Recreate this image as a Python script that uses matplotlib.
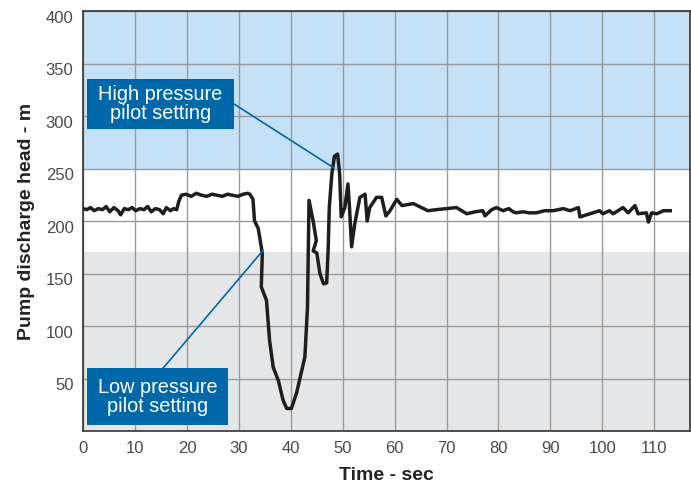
import matplotlib
matplotlib.use("Agg")
import matplotlib.pyplot as plt
from matplotlib.patches import Rectangle
from matplotlib.transforms import ScaledTranslation

plt.rcParams['font.family'] = ['Liberation Sans', 'DejaVu Sans']

time_s = [0.0, 0.7, 1.4, 2.1, 2.9, 3.7, 4.4, 5.1, 5.9, 6.7, 7.2, 7.9, 8.7, 9.4, 10.1, 10.9,
          11.7, 12.4, 13.1, 13.9, 14.7, 15.4, 16.0, 16.8, 17.4, 18.0, 18.4, 18.9, 19.8,
          20.8, 21.8, 22.8, 23.8, 24.8, 25.8, 26.8, 27.8, 28.8, 29.8, 30.8, 31.7, 32.1,
          32.7, 33.0, 33.7, 34.3, 34.5, 34.3, 35.3, 35.9, 36.6, 37.6, 38.5, 39.2, 40.1,
          41.1, 42.1, 42.7, 43.2, 43.5, 44.3, 44.9, 44.3, 45.0, 45.6, 46.3, 46.9, 47.2,
          47.4, 47.9, 48.4, 49.0, 49.4, 49.7, 50.4, 51.0, 51.3, 51.7, 52.3, 53.3, 54.3,
          54.7, 55.2, 56.5, 57.5, 58.3, 59.1, 60.4, 61.4, 63.6, 66.4, 68.0, 70.0, 71.9,
          73.9, 75.5, 77.0, 77.4, 78.7, 79.6, 80.9, 82.0, 82.8, 83.4, 84.7, 85.9, 87.3,
          88.9, 90.5, 92.5, 93.8, 95.4, 95.7, 97.6, 99.5, 100.1, 101.4, 102.1, 104.0,
          105.0, 106.3, 106.9, 108.5, 108.9, 109.5, 110.5, 111.8, 113.1]
head_m = [212.0, 211.0, 213.0, 210.0, 212.0, 211.0, 214.0, 209.0, 213.0, 210.0, 206.1, 212.0,
          211.0, 213.0, 210.0, 212.0, 211.0, 214.0, 209.0, 212.0, 211.0, 207.1, 213.0, 210.0,
          212.0, 211.0, 218.8, 224.7, 225.7,
          223.7, 226.6, 224.7, 223.7, 225.7, 224.7, 223.7, 225.7, 224.7, 223.7, 225.7, 226.6, 225.7,
          220.8, 200.2, 193.3, 175.7, 168.8, 137.5, 124.8, 86.6, 61.1, 48.3, 29.7, 21.9, 21.9,
          36.6, 58.1, 70.9, 117.9, 219.8, 200.2, 181.6, 171.8, 169.8, 150.2, 140.4, 141.4, 174.7,
          212.9, 245.2, 261.9, 263.9, 245.2, 204.1, 213.0, 235.5, 213.0, 175.7, 197.3, 222.7, 225.7,
          200.2, 213.0, 222.7, 222.7, 205.1, 210.0, 220.8, 214.9, 216.8, 210.0, 211.0, 212.0, 213.0,
          207.1, 209.0, 210.0, 205.1, 211.0, 213.0, 210.0, 212.0, 209.0, 208.0, 209.0, 208.0, 208.0,
          210.0, 210.0, 212.0, 210.0, 213.0, 204.1, 207.1, 210.0, 207.1, 210.0, 207.1, 213.0,
          208.0, 214.9, 207.1, 208.0, 199.2, 208.0, 207.1, 210.0, 210.0]

x_ticks = [0, 10, 20, 30, 40, 50, 60, 70, 80, 90, 100, 110]
y_ticks = [50, 100, 150, 200, 250, 300, 350, 400]
high_band = (249, 400)
low_band = (0, 170.5)
high_label = 'High pressure\npilot setting'
low_label = 'Low pressure\npilot setting'

fig = plt.figure(figsize=(6.91, 4.88), dpi=100)
ax = fig.add_axes([0.1205, 0.1158, 0.878, 0.8617])
ax.set_xlim(0, 116.9)
ax.set_ylim(0, 399)

ax.axhspan(high_band[0], high_band[1], color='#c6e0f5', zorder=0, lw=0)
ax.axhspan(low_band[0], low_band[1], color='#e5e6e8', zorder=0, lw=0)

ax.set_xticks(x_ticks)
ax.set_yticks(y_ticks)
ax.grid(True, color='#9a9a9a', lw=1.0, zorder=1)
ax.set_axisbelow(True)
ax.tick_params(length=0, labelsize=12, labelcolor='#4a4a4a', pad=7)
for lbl in ax.get_yticklabels():
    lbl.set_transform(lbl.get_transform() + ScaledTranslation(0, -4 / 72, fig.dpi_scale_trans))

for s in ax.spines.values():
    s.set_color('#333333')
    s.set_linewidth(1.2)

ax.plot(time_s, head_m, color='#1e1e1e', lw=2.5, zorder=3, solid_joinstyle='round')

ax.set_xlabel('Time - sec', fontsize=14, fontweight='bold', color='#222222', labelpad=8)
ax.set_ylabel('Pump discharge head - m', fontsize=14, fontweight='bold', color='#222222', labelpad=8)

box_c = '#0067a9'
# High pressure box and leader
ax.add_patch(Rectangle((0.77, 288.0), 28.2, 47.4, fc=box_c, ec='none', zorder=5))
ax.text(14.9, 311.7, high_label, ha='center', va='center', fontsize=14.3,
        color='white', linespacing=1.0, zorder=6)
ax.plot([29.0, 48.2], [311.7, 251], color=box_c, lw=1.2, zorder=4)
# Low pressure box and leader
ax.add_patch(Rectangle((0.77, 6.1), 27.1, 54.3, fc=box_c, ec='none', zorder=5))
ax.text(14.3, 33.0, low_label, ha='center', va='center', fontsize=14.3,
        color='white', linespacing=1.0, zorder=6)
ax.plot([15.4, 34.6], [60.4, 172], color=box_c, lw=1.2, zorder=4)

fig.savefig('out.png', dpi=100)
